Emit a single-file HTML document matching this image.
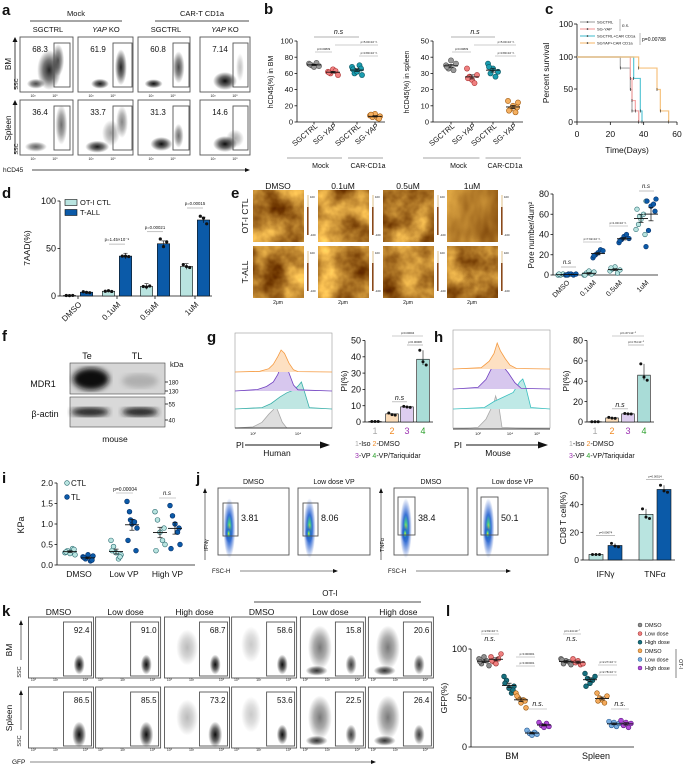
<!DOCTYPE html>
<html><head><meta charset="utf-8">
<style>
html,body{margin:0;padding:0;background:#fff}
svg{display:block;font-family:"Liberation Sans",Arial,sans-serif}
</style></head>
<body>
<svg id="fig" width="683" height="773" viewBox="0 0 683 773" xmlns="http://www.w3.org/2000/svg">
<defs>
 <radialGradient id="blob"><stop offset="0" stop-color="#000" stop-opacity="0.95"/><stop offset="0.5" stop-color="#000" stop-opacity="0.6"/><stop offset="1" stop-color="#000" stop-opacity="0"/></radialGradient>
 <radialGradient id="blobBlue"><stop offset="0" stop-color="#f0e020"/><stop offset="0.2" stop-color="#40c890"/><stop offset="0.45" stop-color="#2060d0" stop-opacity="0.9"/><stop offset="1" stop-color="#2a5ac8" stop-opacity="0"/></radialGradient>
 <filter id="bandblur"><feGaussianBlur stdDeviation="3"/></filter>
</defs>
</svg>
<script>
// ===================== DATA =====================
// Panel b
const bCategories = ['SGCTRL','SG-YAP','SGCTRL','SG-YAP'];
const bBM_sgctrl = [72,70,68,73,69,71];
const bBM_sgyap = [62,60,65,63,58,61];
const bBM_carCtrl = [68,60,62,70,58,65,66];
const bBM_carYap = [8,6,10,5,7,9,4];
const bSp_sgctrl = [35,33,38,32,36,34];
const bSp_sgyap = [33,28,26,24,29,27];
const bSp_carCtrl = [36,30,33,28,31,34];
const bSp_carYap = [13,8,10,6,12,7,9];
const bBMTicks = [0,20,40,60,80,100];
const bSpTicks = [0,10,20,30,40,50];
// Panel c
const cNames = ['SGCTRL','SG-YAP','SGCTRL+CAR CD1a','SGYAP+CAR CD1a'];
const cT_sgctrl = [0,26,32,33,37];
const cS_sgctrl = [100,83,50,17,0];
const cT_sgyap = [0,32,33,35,37];
const cS_sgyap = [100,67,33,17,0];
const cT_carCtrl = [0,34,38,39];
const cS_carCtrl = [100,67,17,0];
const cT_carYap = [0,37,48,50,55];
const cS_carYap = [100,83,50,17,0];
const cXTicks = [0,20,40,60];
// Panel d
const dCategories = ['DMSO','0.1uM','0.5uM','1uM'];
const dCTL = [0.5,5,10,31];
const dTALL = [4,42,55,80];
const dCTLpts = [[0.5,0.4,0.6],[5,5.5,4.8],[10,9.5,10.5],[33,31,30]];
const dTALLpts = [[4.5,3.8,3.5],[42,42,41.5],[60,52,57],[84,82,76]];
const dTicks = [0,50,100];
const dP = ['p=1.45×10⁻⁸','p=0.00021','p=0.00015'];
// Panel e
const eCategories = ['DMSO','0.1uM','0.5uM','1uM'];
const eCTL = [[0,0,1,0,0,1],[0,2,4,1,3,0],[4,6,8,2,5,7],[45,50,55,60,73,65,40,58]];
const eTALL = [[0,1,1,0,1,0],[17,20,22,25,24,19],[32,35,38,40,36,34],[28,44,68,70,75,73,63]];
const eTicks = [0,20,40,60,80];
// Panel g
const gCategories = ['1','2','3','4'];
const gValues = [0.3,5,9.3,38.5];
const gPts = [[0.3,0.3,0.3],[5.5,4.5,4.2],[9.6,9.2,9.0],[44,37,35]];
const gTicks = [0,10,20,30,40,50];
// Panel h
const hValues = [0.3,4,8,46];
const hPts = [[0.3,0.3,0.3],[4.5,3.8,3.5],[8.3,8,7.8],[57,44,41]];
const hTicks = [0,20,40,60,80];
// histograms (log10 PI, relative height)
const gHistOrangeX = [1.2,2.3,2.7,2.9,3.1,3.25,3.4,3.6,3.8,4.0,5.5];
const gHistOrangeH = [0,0.03,0.15,0.35,0.7,1.0,0.85,0.4,0.1,0.02,0];
const gHistPurpleX = [1.2,2.2,2.6,2.9,3.1,3.3,3.45,3.6,3.8,4.0,5.5];
const gHistPurpleH = [0,0.05,0.15,0.3,0.55,0.95,1.0,0.6,0.2,0.04,0];
const gHistTealX = [1.2,2.4,2.8,3.2,3.5,3.8,4.0,4.15,4.3,4.5,5.5];
const gHistTealH = [0,0.05,0.2,0.45,0.6,0.7,0.85,1.0,0.6,0.05,0];
const gHistGrayX = [1.2,2.0,2.4,2.7,2.9,3.0,3.1,3.3,3.5,5.5];
const gHistGrayH = [0,0.05,0.25,0.6,0.8,1.0,0.75,0.25,0,0];
const hHistOrangeX = [0.5,2.2,2.7,3.0,3.2,3.4,3.7,4.0,4.4,6.5];
const hHistOrangeH = [0,0.05,0.3,0.6,1.0,0.7,0.4,0.15,0.02,0];
const hHistPurpleX = [0.5,2.0,2.5,2.9,3.2,3.5,3.9,4.3,4.7,6.5];
const hHistPurpleH = [0,0.05,0.3,0.7,1.0,0.75,0.5,0.2,0.02,0];
const hHistTealX = [0.5,2.4,3.0,3.6,4.2,4.6,4.8,5.0,5.3,6.5];
const hHistTealH = [0,0.05,0.25,0.4,0.55,0.9,1.0,0.7,0.05,0];
const hHistGrayX = [0.5,2.0,2.5,2.8,3.0,3.1,3.3,3.5,6.5];
const hHistGrayH = [0,0.05,0.3,0.6,0.8,1.0,0.7,0.05,0];
// Panel i
const iCategories = ['DMSO','Low VP','High VP'];
const iCTL = [[0.3,0.35,0.28,0.4,0.25,0.32,0.38],[0.6,0.45,0.3,0.15,0.25,0.35,0.2],[1.3,1.1,0.8,0.6,0.5,0.35,0.9]];
const iTL = [[0.2,0.15,0.25,0.1,0.22,0.18,0.12],[1.55,1.3,1.0,1.05,0.9,0.6,0.35,1.1],[1.45,1.2,1.0,0.8,0.5,0.4,0.9]];
const iTicks = [0,0.5,1.0,1.5,2.0];
const iTickLabels = ['0.0','0.5','1.0','1.5','2.0'];
// Panel j
const jCategories = ['IFNγ','TNFα'];
const jCTL = [4,33];
const jTL = [10.5,51];
const jCTLpts = [[4,4,4],[37,31,30]];
const jTLpts = [[12,10,9.5],[54,50,49]];
const jTicks = [0,20,40,60];
const jFlowValues = ['3.81','8.06','38.4','50.1'];
// Panel k
const kColumns = ['DMSO','Low dose','High dose','DMSO','Low dose','High dose'];
const kBM = ['92.4','91.0','68.7','58.6','15.8','20.6'];
const kSpleen = ['86.5','85.5','73.2','53.6','22.5','26.4'];
// Panel l
const lLegend = ['DMSO','Low dose','High dose','DMSO','Low dose','High dose'];
const lBM = [[90,85,92,88,83,87],[92,87,85,90,95,88],[72,68,60,55,62,65,58],[55,50,45,48,40,52,47],[17,14,12,15,13],[25,22,20,24,21]];
const lSpleen = [[90,85,88,87,84,89],[90,86,88,84,85],[75,70,65,68,72,62],[55,50,48,45,52,47],[26,22,25,21,24],[27,22,25,20,24]];
const lTicks = [0,50,100];

// ===================== HELPERS =====================
const NS='http://www.w3.org/2000/svg';
const svg=document.getElementById('fig');
const defs=svg.querySelector('defs');
function add(p,tag,a,name){
  const el=document.createElementNS(NS,tag);
  for(const k in a) el.setAttribute(k,a[k]);
  
  
  p.appendChild(el);return el;
}
function txt(p,x,y,s,size,name,o){
  o=o||{};
  const a={x:x,y:y,'font-size':size,'text-anchor':o.anchor||'middle',fill:o.fill||'#111'};
  if(o.weight)a['font-weight']=o.weight;
  if(o.style)a['font-style']=o.style;
  if(o.rot!=null)a.transform='rotate('+o.rot+' '+x+' '+y+')';
  const t=add(p,'text',a,name);t.textContent=s;return t;
}
function ln(p,x1,y1,x2,y2,name,st,w){return add(p,'line',{x1:x1,y1:y1,x2:x2,y2:y2,stroke:st||'#111','stroke-width':w||0.8},name);}
function lin(d0,d1,r0,r1){return function(v){return r0+(v-d0)*(r1-r0)/(d1-d0);};}
function grp(name){return add(svg,'g',{},name);}
function mean(a){let s=0;for(const v of a)s+=v;return s/a.length;}
function sem(a){const m=mean(a);let s=0;for(const v of a)s+=(v-m)*(v-m);return Math.sqrt(s/(a.length-1))/Math.sqrt(a.length);}
const JIT=[-5,-2.5,0,2.5,5,-4,4,-1.5,1.5];
function yAxis(g,x,y0,y1,ticks,sc,labels,size){
  ln(g,x,y0,x,y1,'y-axis-line');
  ticks.forEach(function(t,i){const y=sc(t);ln(g,x-2.5,y,x,y,'y-tick');txt(g,x-4,y+size*0.35,labels?labels[i]:String(t),size,'y-tick-label',{anchor:'end'});});
}
function dots(g,cx,vals,sc,fill,stroke,r,name){
  vals.forEach(function(v,i){add(g,'circle',{cx:cx+JIT[i%JIT.length],cy:sc(v),r:r,fill:fill,stroke:stroke,'stroke-width':0.6},name);});
  const m=mean(vals),e=sem(vals);
  ln(g,cx-7,sc(m),cx+7,sc(m),'mean-line','#111',0.9);
  ln(g,cx,sc(m-e),cx,sc(m+e),'sem-bar','#111',0.7);
  ln(g,cx-2.5,sc(m+e),cx+2.5,sc(m+e),'sem-cap','#111',0.7);
  ln(g,cx-2.5,sc(m-e),cx+2.5,sc(m-e),'sem-cap','#111',0.7);
}
function letter(ch,x,y){txt(svg,x,y,ch,15,'panel-label-'+ch,{anchor:'start',weight:'bold'});}
function flow(g,x,y,w,h,blobs,gate,num,numPos,name){
  const fg=add(g,'g',{},name);
  blobs.forEach(function(b){add(fg,'ellipse',{cx:x+b[0]*w,cy:y+b[1]*h,rx:b[2],ry:b[3],fill:'url(#'+(b[5]||'blob')+')',opacity:b[4]},'density-cloud');});
  add(fg,'rect',{x:x,y:y,width:w,height:h,fill:'none',stroke:'#555','stroke-width':0.9},'plot-frame');
  add(fg,'rect',{x:x+gate[0],y:y+gate[1],width:gate[2],height:gate[3],fill:'none',stroke:'#555','stroke-width':0.9},'gate');
  if(num)txt(fg,numPos[0],numPos[1],num,numPos[2]||8.5,'gate-percent',{anchor:numPos[3]||'middle'});
  return fg;
}

// ===================== PANEL A =====================
(function(){
  letter('a',2,15);
  const g=grp('panel-a');
  txt(g,76,16,'Mock',7.5,'group-label-mock');ln(g,30,21,122,21,'group-line-mock');
  txt(g,202,16,'CAR-T CD1a',7.5,'group-label-car');ln(g,155,21,249,21,'group-line-car');
  const cols=[[48,'SGCTRL'],[106,'YAP KO'],[166,'SGCTRL'],[225,'YAP KO']];
  cols.forEach(function(c){
    if(c[1]==='YAP KO'){const t=add(g,'text',{x:c[0],y:32,'font-size':7.5,'text-anchor':'middle',fill:'#111'},'column-label');t.innerHTML='<tspan font-style="italic">YAP</tspan> KO';}
    else txt(g,c[0],32,c[1],7.5,'column-label');
  });
  const xs=[20,78,138,200],ws=[53,55,52,50],ys=[37,100];
  const blobs=[
    [[[0.55,0.6,12,20,0.9],[0.3,0.85,9,5,0.75],[0.72,0.42,6,16,0.7]],
     [[0.4,0.85,9,5,0.95],[0.78,0.55,6,18,0.9]],
     [[0.3,0.85,9,4.5,1],[0.78,0.55,6,16,0.75]],
     [[0.5,0.8,12,9,1],[0.8,0.55,4,14,0.25]]],
    [[[0.3,0.85,11,5,0.65],[0.78,0.45,6,20,0.6]],
     [[0.35,0.85,12,6,0.95],[0.6,0.6,9,13,0.4],[0.8,0.4,6,16,0.5]],
     [[0.45,0.8,11,7,1],[0.78,0.65,5,12,0.6]],
     [[0.5,0.8,12,8,1],[0.7,0.7,9,9,0.35]]]];
  const nums=[['68.3','61.9','60.8','7.14'],['36.4','33.7','31.3','14.6']];
  const gates=[[34,6,16,44],[35,6,19,44],[35,6,16,44],[33,6,15,44]];
  for(let r=0;r<2;r++)for(let c=0;c<4;c++){
    flow(g,xs[c],ys[r],ws[c],55,blobs[r][c],gates[c],nums[r][c],[xs[c]+20,ys[r]+15,8],'flow-plot-a');
    txt(g,xs[c]+13,ys[r]+60,'10³',3.5,'x-tick-label');txt(g,xs[c]+35,ys[r]+60,'10⁵',3.5,'x-tick-label');
  }
  txt(g,11,64,'BM',8,'row-label-bm',{rot:-90});txt(g,11,128,'Spleen',8,'row-label-spleen',{rot:-90});
  txt(g,18,84,'SSC',5.5,'y-axis-label',{rot:-90});txt(g,18,149,'SSC',5.5,'y-axis-label',{rot:-90});
  ln(g,15,90,15,41,'y-arrow');add(g,'path',{d:'M12.5,42 L15,37 L17.5,42Z',fill:'#111'},'arrow-head');
  ln(g,15,154,15,104,'y-arrow');add(g,'path',{d:'M12.5,105 L15,100 L17.5,105Z',fill:'#111'},'arrow-head');
  txt(g,3,172,'hCD45',6.5,'x-axis-label',{anchor:'start'});
  ln(g,32,170,246,170,'x-arrow');add(g,'path',{d:'M245,168 L250,170 L245,172Z',fill:'#111'},'arrow-head');
})();

// ===================== PANEL B =====================
(function(){
  letter('b',264,14);
  const g=grp('panel-b');
  function chart(ax,xs,max,ticks,sets,ylab,name){
    const cg=add(g,'g',{},name);
    const sc=lin(0,max,122,41);
    yAxis(cg,ax,122,41,ticks,sc,null,7.5);
    ln(cg,ax,122,xs[3]+10,122,'x-axis-line');
    const cols=[['#9a9a9a','#555'],['#f08080','#a33'],['#1a9db0','#0b5560'],['#f5b060','#a05a10']];
    sets.forEach(function(s,i){dots(cg,xs[i],s,sc,cols[i][0],cols[i][1],2.6,'data-point');ln(cg,xs[i],122,xs[i],124.5,'x-tick');});
    txt(cg,ax-24,82,ylab,7,'y-axis-title',{rot:-90});
    bCategories.forEach(function(c,i){
      const x=xs[i]+4,y=127;
      if(c==='SG-YAP'){const t=add(cg,'text',{x:x,y:y,'font-size':7.5,'text-anchor':'end',fill:'#111',transform:'rotate(-40 '+x+' '+y+')'},'x-tick-label');t.innerHTML='SG-<tspan font-style="italic">YAP</tspan>';}
      else txt(cg,x,y,c,7.5,'x-tick-label',{anchor:'end',rot:-40});
    });
    ln(cg,ax-10,158,(xs[1]+xs[2])/2-3,158,'group-line','#888',0.7);
    ln(cg,(xs[1]+xs[2])/2+3,158,xs[3]+8,158,'group-line','#888',0.7);
    txt(cg,(xs[0]+xs[1])/2-3,168,'Mock',7,'group-label');
    txt(cg,(xs[2]+xs[3])/2+2,168,'CAR-CD1a',7,'group-label');
    txt(cg,(xs[0]+xs[2])/2+3,34,'n.s',7,'ns-label',{style:'italic'});
    ln(cg,xs[0],37,xs[2]+2,37,'sig-line','#999',0.7);
    ln(cg,xs[0]+1,52,xs[1]-1,52,'sig-line','#999',0.6);txt(cg,(xs[0]+xs[1])/2,50,'p=0.00839',2.8,'p-value');
    ln(cg,xs[1]+2,45,xs[3]+3,45,'sig-line','#999',0.6);txt(cg,(xs[2]+xs[3])/2+3,43,'p=5.00×10⁻¹¹',2.8,'p-value');
    ln(cg,xs[2]+2,56,xs[3]+3,56,'sig-line','#999',0.6);txt(cg,(xs[2]+xs[3])/2+3,54,'p=3.80×10⁻¹¹',2.8,'p-value');
  }
  chart(297,[314,333,357,375],100,bBMTicks,[bBM_sgctrl,bBM_sgyap,bBM_carCtrl,bBM_carYap],'hCD45(%) in BM','chart-bm');
  chart(433,[451,472,493,513],50,bSpTicks,[bSp_sgctrl,bSp_sgyap,bSp_carCtrl,bSp_carYap],'hCD45(%) in spleen','chart-spleen');
})();

// ===================== PANEL C =====================
(function(){
  letter('c',545,14);
  const g=grp('panel-c');
  const sx=lin(0,60,577,677), sy=lin(0,100,122,57);
  ln(g,577,122,577,24,'y-axis-line');ln(g,577,122,677,122,'x-axis-line');
  [[24,'100'],[57,'100'],[89,'50'],[122,'0']].forEach(function(t){ln(g,574,t[0],577,t[0],'y-tick');txt(g,573,t[0]+3,t[1],8.5,'y-tick-label',{anchor:'end'});});
  cXTicks.forEach(function(t){ln(g,sx(t),122,sx(t),125,'x-tick');txt(g,sx(t),137,String(t),8.5,'x-tick-label');});
  txt(g,627,153,'Time(Days)',8.5,'x-axis-title');
  txt(g,549,73,'Percent survival',8.5,'y-axis-title',{rot:-90});
  const cols=['#aaaaaa','#f5a5a5','#5cc6d6','#f6c27e'];
  const T=[cT_sgctrl,cT_sgyap,cT_carCtrl,cT_carYap],S=[cS_sgctrl,cS_sgyap,cS_carCtrl,cS_carYap];
  T.forEach(function(t,k){
    let d='M'+sx(0)+','+sy(S[k][0]);
    for(let i=1;i<t.length;i++){d+=' H'+sx(t[i])+' V'+sy(S[k][i]);}
    add(g,'path',{d:d,fill:'none',stroke:cols[k],'stroke-width':1.2},'survival-curve-'+k);
    for(let i=1;i<t.length;i++){ln(g,sx(t[i]),sy(S[k][i])-1.5,sx(t[i]),sy(S[k][i])+1.5,'censor-tick','#222',0.6);}
  });
  cNames.forEach(function(n,i){
    const y=22+i*7;
    ln(g,580,y,595,y,'legend-line',cols[i],1.2);add(g,'circle',{cx:587.5,cy:y,r:0.8,fill:'#222'},'legend-marker');
    txt(g,597,y+1.5,n,4,'legend-text',{anchor:'start'});
  });
  ln(g,620,19,620,31,'legend-bracket','#777',0.5);txt(g,622,27,'n.s.',4.5,'ns-label',{anchor:'start',style:'italic'});
  ln(g,640,33,640,45,'legend-bracket','#777',0.5);txt(g,642,41,'p=0.00788',5,'p-value',{anchor:'start'});
})();

// ===================== PANEL D =====================
(function(){
  letter('d',2,198);
  const g=grp('panel-d');
  const sy=lin(0,100,296,201);
  yAxis(g,60,296,201,dTicks,sy,null,9);
  ln(g,60,296,212,296,'x-axis-line');
  txt(g,30,248,'7AAD(%)',8.5,'y-axis-title',{rot:-90});
  const centers=[78,117,155,195];
  dCategories.forEach(function(c,i){
    const x=centers[i];
    [[dCTL,dCTLpts,'#b9e4e0',-8.5],[dTALL,dTALLpts,'#0b5aa8',8.5]].forEach(function(s){
      const v=s[0][i],bx=x+s[3]-6.2;
      add(g,'rect',{x:bx,y:sy(v),width:12.4,height:296-sy(v),fill:s[2],stroke:'#111','stroke-width':0.6},'bar-'+c);
      s[1][i].forEach(function(p,j){add(g,'circle',{cx:bx+3+j*3.2,cy:sy(p),r:1.6,fill:'#111'},'bar-point');});
      if(v>8){ln(g,x+s[3],sy(v+3),x+s[3],sy(v-3),'error-bar','#111',0.6);ln(g,x+s[3]-2,sy(v+3),x+s[3]+2,sy(v+3),'error-cap','#111',0.6);}
    });
    ln(g,x,296,x,299,'x-tick');
    txt(g,x+4,305,c,8,'x-tick-label',{anchor:'end',rot:-45});
    if(i>0){const top=sy(dTALL[i])-12;ln(g,x-8,top,x+8,top,'sig-line','#999',0.6);txt(g,x,top-3,dP[i-1],4.3,'p-value');}
  });
  add(g,'rect',{x:65,y:199.5,width:12,height:6,fill:'#b9e4e0',stroke:'#111','stroke-width':0.6},'legend-swatch-ctl');
  txt(g,80,205,'OT-I CTL',7.5,'legend-text',{anchor:'start'});
  add(g,'rect',{x:65,y:209.5,width:12,height:6,fill:'#0b5aa8',stroke:'#111','stroke-width':0.6},'legend-swatch-tall');
  txt(g,80,215,'T-ALL',7.5,'legend-text',{anchor:'start'});
})();

// ===================== PANEL E =====================
(function(){
  letter('e',231,198);
  const g=grp('panel-e');
  const xs=[253,318,383,447],ys=[190,246];
  ['DMSO','0.1uM','0.5uM','1uM'].forEach(function(t,i){txt(g,xs[i]+25,189,t,8.5,'column-header');});
  let k=0;
  const seeds=[3,7,11,19,23,29,31,37];
  for(let r=0;r<2;r++)for(let c=0;c<4;c++){
    const f=add(defs,'filter',{id:'afm'+k,x:0,y:0,width:1,height:1,'color-interpolation-filters':'sRGB'},'afm-filter');
    add(f,'feTurbulence',{type:'fractalNoise',baseFrequency:(c===3&&r===0)?'0.025 0.012':'0.035',numOctaves:4,seed:seeds[k]},'noise');
    add(f,'feColorMatrix',{type:'matrix',values:'1.0 0 0 0 0.2  1.0 0 0 0 -0.02  0.6 0 0 0 -0.14  0 0 0 0 1'},'tint');
    add(g,'rect',{x:xs[c],y:ys[r],width:51,height:52,filter:'url(#afm'+k+')',fill:'#b07a30'},'afm-image');
    const cb=xs[c]+54;
    add(g,'rect',{x:cb,y:ys[r]+5,width:1.6,height:40,fill:'#8a4a1a'},'colorbar');
    add(g,'rect',{x:cb,y:ys[r]+5,width:1.6,height:12,fill:'#f0e0c0'},'colorbar-top');
    txt(g,cb+3,ys[r]+8,'100',2.8,'colorbar-label',{anchor:'start'});
    txt(g,cb+3,ys[r]+46,'-100',2.8,'colorbar-label',{anchor:'start'});
    k++;
  }
  xs.forEach(function(x){txt(g,x+25,304,'2μm',5,'scale-label');});
  txt(g,248,216,'OT-I CTL',8.5,'row-label',{rot:-90});
  txt(g,248,272,'T-ALL',8.5,'row-label',{rot:-90});
  const sy=lin(0,80,275,194);
  yAxis(g,553,275,194,eTicks,sy,null,9);
  ln(g,553,275,658,275,'x-axis-line');
  txt(g,534,235,'Pore number/4um²',8,'y-axis-title',{rot:-90});
  const cx=[[563,571],[589,598],[615,624],[641,651]];
  eCategories.forEach(function(c,i){
    dots(g,cx[i][0],eCTL[i],sy,'#b9e4e0','#2a6a70',2.3,'data-point');
    dots(g,cx[i][1],eTALL[i],sy,'#0b5aa8','#06306a',2.3,'data-point');
    txt(g,(cx[i][0]+cx[i][1])/2+3,283,c,7,'x-tick-label',{anchor:'end',rot:-45});
  });
  txt(g,567,264,'n.s',6,'ns-label',{style:'italic'});ln(g,561,267,576,267,'sig-line','#999',0.6);
  txt(g,646,188,'n.s',6,'ns-label',{style:'italic'});ln(g,639,191,654,191,'sig-line','#999',0.6);
  ln(g,583,242,602,242,'sig-line','#999',0.6);txt(g,592,240,'p=7.92×10⁻¹¹',2.8,'p-value');
  ln(g,609,226,628,226,'sig-line','#999',0.6);txt(g,618,224,'p=1.00×10⁻¹¹',2.8,'p-value');
})();

// ===================== PANEL F =====================
(function(){
  letter('f',2,341);
  const g=grp('panel-f');
  txt(g,87,359,'Te',9,'lane-label');txt(g,137,359,'TL',9,'lane-label');
  txt(g,170,367,'kDa',7.5,'unit-label',{anchor:'start'});
  add(g,'rect',{x:70,y:363,width:95,height:31,fill:'#d6d6d6',stroke:'#444','stroke-width':0.6},'blot-mdr1');
  add(g,'ellipse',{cx:91,cy:379,rx:18,ry:11,fill:'#111',filter:'url(#bandblur)'},'band-te-mdr1');
  add(g,'ellipse',{cx:140,cy:381,rx:18,ry:7,fill:'#888',opacity:0.5,filter:'url(#bandblur)'},'band-tl-mdr1');
  add(g,'rect',{x:70,y:397,width:95,height:30,fill:'#d9d9d9',stroke:'#444','stroke-width':0.6},'blot-actin');
  add(g,'ellipse',{cx:90,cy:412,rx:19,ry:4.5,fill:'#1a1a1a',filter:'url(#bandblur)'},'band-te-actin');
  add(g,'ellipse',{cx:140,cy:412,rx:18,ry:4.5,fill:'#1a1a1a',filter:'url(#bandblur)'},'band-tl-actin');
  txt(g,43,387,'MDR1',9,'protein-label');txt(g,45,417,'β-actin',9,'protein-label');
  [[382,'180'],[391,'130'],[404,'55'],[420,'40']].forEach(function(m){ln(g,165,m[0],168,m[0],'marker-tick');txt(g,168.5,m[0]+2.5,m[1],6,'marker-label',{anchor:'start'});});
  txt(g,115,442,'mouse',8.5,'species-label');
})();

// ===================== PANELS G & H =====================
function hist(g,X,H,base,maxH,sx,fill,stroke,x0,x1){
  let d='M'+x0+','+base;
  X.forEach(function(x,i){d+=' L'+sx(x).toFixed(1)+','+(base-H[i]*maxH).toFixed(1);});
  d+=' L'+x1+','+base;
  add(g,'path',{d:d+'Z',fill:fill,stroke:'none'},'histogram-fill');
  add(g,'path',{d:d,fill:'none',stroke:stroke,'stroke-width':0.8},'histogram-line');
}
function barPanel(g,ax,xs,vals,pts,max,ticks,legendX,pLabels){
  const sy=lin(0,max,422,340.5);
  yAxis(g,ax,422,340.5,ticks,sy,null,9);
  ln(g,ax,422,xs[3]+10,422,'x-axis-line');
  const fills=['#eeeeee','#fbdcb8','#ddcdef','#a9dcd7'];
  const lc=['#aaaaaa','#f08a24','#9b30b0','#2ca02c'];
  gCategories.forEach(function(c,i){
    const v=vals[i];
    add(g,'rect',{x:xs[i]-6.3,y:sy(v),width:12.6,height:422-sy(v),fill:fills[i],stroke:'#111','stroke-width':0.6},'bar-'+c);
    pts[i].forEach(function(p,j){add(g,'circle',{cx:xs[i]-3.2+j*3.2,cy:sy(p),r:1.5,fill:'#111'},'bar-point');});
    if(i===3){ln(g,xs[i],sy(pts[i][0]),xs[i],sy(pts[i][2]),'error-bar','#111',0.6);}
    txt(g,xs[i],434,c,9,'x-tick-label',{fill:lc[i]});
  });
  const nsY=sy(vals[2])-5;
  txt(g,(xs[1]+xs[2])/2,nsY-2,'n.s',7,'ns-label',{style:'italic'});
  ln(g,xs[1],nsY,xs[2],nsY,'sig-line','#999',0.6);
  ln(g,xs[1],336,xs[3],336,'sig-line','#999',0.6);txt(g,(xs[1]+xs[3])/2,334,pLabels[0],2.8,'p-value');
  ln(g,xs[2],345,xs[3],345,'sig-line','#999',0.6);txt(g,(xs[2]+xs[3])/2,343,pLabels[1],2.8,'p-value');
  const l1=add(g,'text',{x:legendX,y:446,'font-size':7,fill:'#111'},'legend-text');
  l1.innerHTML='<tspan fill="#aaa">1</tspan>-Iso  <tspan fill="#f08a24">2</tspan>-DMSO';
  const l2=add(g,'text',{x:legendX,y:458,'font-size':7,fill:'#111'},'legend-text');
  l2.innerHTML='<tspan fill="#9b30b0">3</tspan>-VP  <tspan fill="#2ca02c">4</tspan>-VP/Tariquidar';
  txt(g,ax-18,381,'PI(%)',8.5,'y-axis-title',{rot:-90});
}
(function(){
  letter('g',207,342);
  const g=grp('panel-g');
  const sx=lin(2,4,253,298);
  add(g,'rect',{x:235,y:333,width:97,height:95,fill:'#fff',stroke:'#999','stroke-width':0.6},'histogram-frame');
  hist(g,gHistGrayX,gHistGrayH,428,23,sx,'#dedede','#aaa',235,332);
  hist(g,gHistTealX,gHistTealH,409,27,sx,'#bfe6e2','#3bb0aa',235,332);
  hist(g,gHistPurpleX,gHistPurpleH,391,30,sx,'#d7c7ee','#7040c0',235,332);
  hist(g,gHistOrangeX,gHistOrangeH,372,22,sx,'#fde0c2','#f59a40',235,332);
  ln(g,235,428,332,428,'x-axis-line');
  txt(g,253,435,'10²',4,'x-tick-label');txt(g,298,435,'10⁴',4,'x-tick-label');
  txt(g,240,448,'PI',8.5,'x-axis-title');
  ln(g,245,445,322,445,'x-arrow','#111',1);add(g,'path',{d:'M320,441.5 L330,445 L320,448.5Z',fill:'#111'},'arrow-head');
  txt(g,277,456,'Human',8.5,'species-label');
  barPanel(g,365,[375,392,407,423],gValues,gPts,50,gTicks,355,['p=0.00004','p=0.00008']);
})();
(function(){
  letter('h',434,342);
  const g=grp('panel-h');
  const sx=lin(2,4,478,510);
  add(g,'rect',{x:453,y:330,width:97,height:98,fill:'#fff',stroke:'#999','stroke-width':0.6},'histogram-frame');
  hist(g,hHistGrayX,hHistGrayH,429,33,sx,'#dedede','#aaa',453,550);
  hist(g,hHistTealX,hHistTealH,409,30,sx,'#bfe9e6','#3cc0c0',453,550);
  hist(g,hHistPurpleX,hHistPurpleH,389,32,sx,'#d7c7ee','#7040c0',453,550);
  hist(g,hHistOrangeX,hHistOrangeH,369,26,sx,'#fde0c2','#f59a40',453,550);
  ln(g,453,429,550,429,'x-axis-line');
  [['10²',478],['10⁴',510],['10⁶',537]].forEach(function(t){txt(g,t[1],435,t[0],4,'x-tick-label');});
  txt(g,458,448,'PI',8.5,'x-axis-title');
  ln(g,466,445,540,445,'x-arrow','#111',1);add(g,'path',{d:'M538,441.5 L548,445 L538,448.5Z',fill:'#111'},'arrow-head');
  txt(g,498,456,'Mouse',8.5,'species-label');
  barPanel(g,587,[595,612,628,644],hValues,hPts,80,hTicks,569,['p=1.67×10⁻⁵','p=4.76×10⁻⁵']);
})();

// ===================== PANEL I =====================
(function(){
  letter('i',2,483);
  const g=grp('panel-i');
  const sy=lin(0,2,565,483);
  yAxis(g,57,565,483,iTicks,sy,iTickLabels,8.5);
  ln(g,57,565,195,565,'x-axis-line');
  txt(g,24,525,'KPa',9,'y-axis-title',{rot:-90});
  const cx=[[70,88],[116,132],[160,175]];
  iCategories.forEach(function(c,i){
    dots(g,cx[i][0],iCTL[i],sy,'#b9e4e0','#2a6a70',2.4,'data-point');
    dots(g,cx[i][1],iTL[i],sy,'#0b5aa8','#06306a',2.4,'data-point');
    txt(g,(cx[i][0]+cx[i][1])/2,577,c,8.5,'x-tick-label');
  });
  add(g,'circle',{cx:67,cy:483,r:2.4,fill:'#b9e4e0',stroke:'#2a6a70','stroke-width':0.6},'legend-marker-ctl');
  txt(g,71,486,'CTL',8,'legend-text',{anchor:'start'});
  add(g,'circle',{cx:67,cy:497,r:2.4,fill:'#0b5aa8',stroke:'#06306a','stroke-width':0.6},'legend-marker-tl');
  txt(g,71,500,'TL',8,'legend-text',{anchor:'start'});
  txt(g,125,491,'p=0.00004',5,'p-value');ln(g,116,493,133,493,'sig-line','#999',0.6);
  txt(g,167,495,'n.s',6,'ns-label',{style:'italic'});ln(g,159,498,176,498,'sig-line','#999',0.6);
})();

// ===================== PANEL J =====================
(function(){
  letter('j',196,483);
  const g=grp('panel-j');
  const bx=[218,298,394,477],bw=[71,72,74,71];
  const titles=['DMSO','Low dose VP','DMSO','Low dose VP'];
  bx.forEach(function(x,i){
    txt(g,x+bw[i]/2,484,titles[i],7,'column-header');
    flow(g,x,488,bw[i],67,[[0.16,0.6,6,30,1,'blobBlue'],[0.15,0.68,4,9,1,'blobBlue']],[i<2?5:4,i<2?15:9,i<2?15:17,i<2?33:38],jFlowValues[i],[x+(i<2?23:24),521,9,'start'],'flow-plot-j');
  });
  txt(g,208,545,'IFNγ',5.5,'y-axis-label',{rot:-90});
  ln(g,205,560,205,492,'y-arrow','#111',0.6);add(g,'path',{d:'M203,493 L205,488 L207,493Z',fill:'#111'},'arrow-head');
  txt(g,384,545,'TNFα',5.5,'y-axis-label',{rot:-90});
  ln(g,381,560,381,492,'y-arrow','#111',0.6);add(g,'path',{d:'M379,493 L381,488 L383,493Z',fill:'#111'},'arrow-head');
  txt(g,212,573,'FSC-H',6,'x-axis-label',{anchor:'start'});ln(g,240,571,335,571,'x-arrow','#111',0.6);add(g,'path',{d:'M333,569 L338,571 L333,573Z',fill:'#111'},'arrow-head');
  txt(g,388,573,'FSC-H',6,'x-axis-label',{anchor:'start'});ln(g,416,571,508,571,'x-arrow','#111',0.6);add(g,'path',{d:'M506,569 L511,571 L506,573Z',fill:'#111'},'arrow-head');
  const sy=lin(0,60,560,477);
  yAxis(g,583,560,477,jTicks,sy,null,8.5);
  ln(g,583,560,675,560,'x-axis-line');
  txt(g,566,518,'CD8 T cell(%)',8.5,'y-axis-title',{rot:-90});
  const cx=[[596,615],[646,664]];
  jCategories.forEach(function(c,i){
    [[jCTL,jCTLpts,'#b9e4e0',0],[jTL,jTLpts,'#0b5aa8',1]].forEach(function(s){
      const v=s[0][i],x=cx[i][s[3]];
      add(g,'rect',{x:x-7,y:sy(v),width:14,height:560-sy(v),fill:s[2],stroke:'#111','stroke-width':0.6},'bar-'+c);
      s[1][i].forEach(function(p,j){add(g,'circle',{cx:x-3.5+j*3.5,cy:sy(p),r:1.5,fill:'#111'},'bar-point');});
      ln(g,x,sy(Math.max.apply(null,s[1][i])),x,sy(Math.min.apply(null,s[1][i])),'error-bar','#111',0.6);
    });
    txt(g,(cx[i][0]+cx[i][1])/2,577,c,8.5,'x-tick-label');
    const top=sy(jTL[i])-10;ln(g,cx[i][0],top,cx[i][1],top,'sig-line','#999',0.6);
    txt(g,(cx[i][0]+cx[i][1])/2,top-2,i===0?'p=0.00674':'p=0.00514',2.8,'p-value');
  });
})();

// ===================== PANEL K =====================
(function(){
  letter('k',2,616);
  const g=grp('panel-k');
  txt(g,330,596,'OT-I',8,'group-label-oti');ln(g,254,602,421,602,'group-line-oti');
  const xs=[28.5,95.6,164.5,231.6,300.4,368.4];
  xs.forEach(function(x,i){txt(g,x+30,615,kColumns[i],8.5,'column-header');});
  const extra=[[],[],[[0.35,0.5,11,18,0.28]],[[0.3,0.45,10,18,0.22]],[[0.3,0.5,12,22,0.55],[0.25,0.88,11,5,0.85]],[[0.3,0.5,12,22,0.55],[0.25,0.88,11,5,0.85]]];
  const ys=[617,687];
  for(let r=0;r<2;r++)xs.forEach(function(x,i){
    const vals=r===0?kBM:kSpleen;
    const main=[0.78,0.78,r===1&&i<3?7:5.5,r===1&&i<3?13:10,i>=4?0.8:1];
    flow(g,x,ys[r],65,61,[main].concat(extra[i]),[35,5,28,54],vals[i],[x+61,ys[r]+16,8,'end'],'flow-plot-k');
    txt(g,x+5,ys[r]+64,'10⁰',3.5,'x-tick-label');txt(g,x+27,ys[r]+64,'10³',3.5,'x-tick-label');txt(g,x+57,ys[r]+64,'10⁵',3.5,'x-tick-label');
  });
  txt(g,12,650,'BM',8.5,'row-label-bm',{rot:-90});txt(g,12,718,'Spleen',8.5,'row-label-spleen',{rot:-90});
  txt(g,21,672,'SSC',5.5,'y-axis-label',{rot:-90});txt(g,21,741,'SSC',5.5,'y-axis-label',{rot:-90});
  ln(g,21,660,21,624,'y-arrow','#111',0.6);add(g,'path',{d:'M19,625 L21,620 L23,625Z',fill:'#111'},'arrow-head');
  ln(g,21,730,21,694,'y-arrow','#111',0.6);add(g,'path',{d:'M19,695 L21,690 L23,695Z',fill:'#111'},'arrow-head');
  txt(g,12,764,'GFP',6.5,'x-axis-label',{anchor:'start'});
  ln(g,30,762,372,762,'x-arrow','#111',0.6);add(g,'path',{d:'M371,760 L376,762 L371,764Z',fill:'#111'},'arrow-head');
})();

// ===================== PANEL L =====================
(function(){
  letter('l',446,616);
  const g=grp('panel-l');
  const sy=lin(0,100,747,649);
  yAxis(g,471,747,649,lTicks,sy,null,9);
  ln(g,471,747,634,747,'x-axis-line');
  txt(g,447,698,'GFP(%)',8.5,'y-axis-title',{rot:-90});
  const fills=['#8e8e8e','#f07f7f','#16707f','#f4aa5c','#78aee0','#b24ad8'];
  const strokes=['#444','#9a3030','#0a3a42','#9a5a10','#2a5a90','#5a1a80'];
  const bmX=[484,496,509,521,532,544],spX=[566,578,590,602,614,626];
  [[lBM,bmX],[lSpleen,spX]].forEach(function(set){
    set[0].forEach(function(vals,k){dots(g,set[1][k],vals,sy,fills[k],strokes[k],2.4,'data-point');});
  });
  txt(g,512,759,'BM',9,'x-tick-label');txt(g,596,759,'Spleen',9,'x-tick-label');
  txt(g,490,641,'n.s.',7,'ns-label',{style:'italic'});ln(g,481,634,499,634,'sig-line','#999',0.6);txt(g,490,632,'p=2.82×10⁻¹¹',2.8,'p-value');
  txt(g,572,641,'n.s.',7,'ns-label',{style:'italic'});ln(g,563,634,581,634,'sig-line','#999',0.6);txt(g,572,632,'p=1.24×10⁻⁷',2.8,'p-value');
  txt(g,538,706,'n.s.',7,'ns-label',{style:'italic'});ln(g,529,709,547,709,'sig-line','#999',0.6);
  txt(g,620,706,'n.s.',7,'ns-label',{style:'italic'});ln(g,611,709,629,709,'sig-line','#999',0.6);
  ln(g,516,657,535,657,'sig-line','#999',0.6);txt(g,527,655,'p<0.000001',2.8,'p-value');
  ln(g,516,666,535,666,'sig-line','#999',0.6);txt(g,527,664,'p<0.000001',2.8,'p-value');
  ln(g,598,665,617,665,'sig-line','#999',0.6);txt(g,608,663,'p=2.27×10⁻¹²',2.8,'p-value');
  ln(g,598,675,617,675,'sig-line','#999',0.6);txt(g,608,673,'p=2.78×10⁻¹²',2.8,'p-value');
  lLegend.forEach(function(n,i){
    const y=625+i*8.6;
    add(g,'circle',{cx:640,cy:y,r:2,fill:fills[i],stroke:strokes[i],'stroke-width':0.5},'legend-marker');
    txt(g,645,y+2,n,5.5,'legend-text',{anchor:'start'});
  });
  ln(g,676,649,676,678,'legend-bracket','#333',0.6);
  txt(g,679,664,'OT-I',5,'legend-group-label',{rot:90});
})();
</script>
</body></html>
